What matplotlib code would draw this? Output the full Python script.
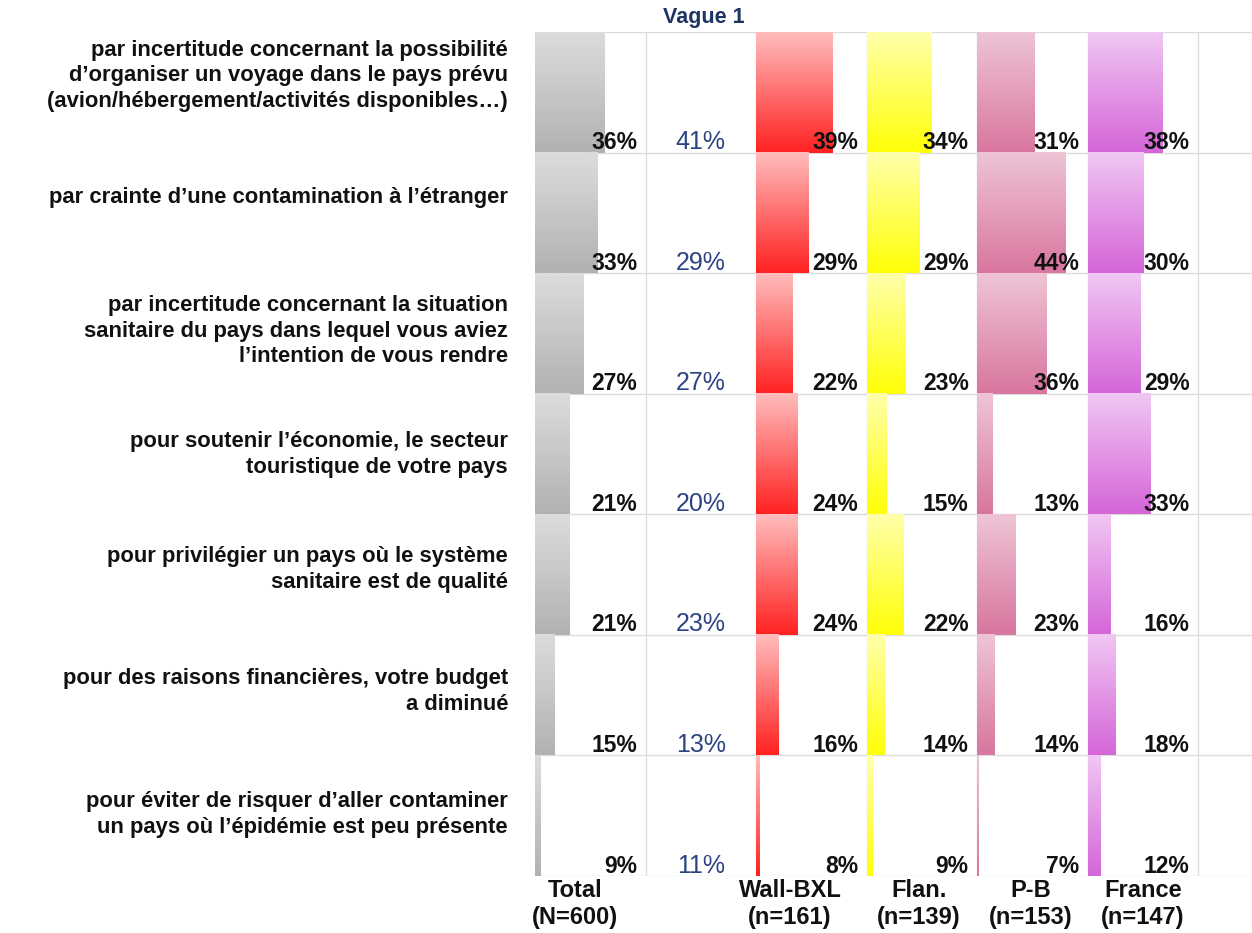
import numpy as np
import matplotlib
matplotlib.use('Agg')
import matplotlib.pyplot as plt
from matplotlib.colors import LinearSegmentedColormap

plt.rcParams['font.family'] = ['Liberation Sans', 'DejaVu Sans']

# Data
reasons = [
    "par incertitude concernant la possibilité\nd\u2019organiser un voyage dans le pays prévu\n(avion/hébergement/activités disponibles\u2026)",
    "par crainte d\u2019une contamination à l\u2019étranger",
    "par incertitude concernant la situation\nsanitaire du pays dans lequel vous aviez\nl\u2019intention de vous rendre",
    "pour soutenir l\u2019économie, le secteur\ntouristique de votre pays",
    "pour privilégier un pays où le système\nsanitaire est de qualité",
    "pour des raisons financières, votre budget\na diminué",
    "pour éviter de risquer d\u2019aller contaminer\nun pays où l\u2019épidémie est peu présente",
]
total = [36, 33, 27, 21, 21, 15, 9]
vague1 = [41, 29, 27, 20, 23, 13, 11]
wall_bxl = [39, 29, 22, 24, 24, 16, 8]
flandre = [34, 29, 23, 15, 22, 14, 9]
pays_bas = [31, 44, 36, 13, 23, 14, 7]
france = [38, 30, 29, 33, 16, 18, 12]
group_labels = ["Total\n(N=600)", "Wall-BXL\n(n=161)", "Flan.\n(n=139)", "P-B\n(n=153)", "France\n(n=147)"]

W, H = 1252, 933
fig = plt.figure(figsize=(W / 100, H / 100), dpi=100)

def fx(px):
    return px / W

def fy(py):
    return 1 - py / H

grid_left, grid_right = 535, 1252
grid_top, grid_bottom = 32, 876
n_rows = len(reasons)
row_h = (grid_bottom - grid_top) / n_rows
col_w = 110.5

# grid background
bg = fig.add_axes([fx(grid_left), fy(grid_bottom), fx(grid_right - grid_left), (grid_bottom - grid_top) / H])
bg.set_xlim(grid_left, grid_right)
bg.set_ylim(grid_bottom, grid_top)
bg.axis('off')
for k in range(n_rows + 1):
    bg.axhline(grid_top + k * row_h, color='#dcdcdc', lw=1)
for k in range(7):
    bg.axvline(grid_left + k * col_w, color='#dcdcdc', lw=1)

columns = [
    (total, ('#dcdcdc', '#b2b2b2')),
    (vague1, None),
    (wall_bxl, ('#ffbcbc', '#ff2222')),
    (flandre, ('#ffffaa', '#ffff08')),
    (pays_bas, ('#eec4d5', '#d9769f')),
    (france, ('#f0c6f3', '#d566d8')),
]

xmin, xmax = 6.5, 53.5
grad = np.linspace(0, 1, 64).reshape(-1, 1)

for i, (vals, colors) in enumerate(columns):
    left = grid_left + i * col_w
    ax = fig.add_axes([fx(left), fy(grid_bottom), fx(col_w), (grid_bottom - grid_top) / H], zorder=2)
    ax.patch.set_alpha(0)
    for r, v in enumerate(vals):
        y0 = n_rows - 1 - r
        if colors is None:
            ax.annotate(f"{v}%", xy=((xmin + xmax) / 2, y0), xytext=(0, 2.5),
                        textcoords='offset points', ha='center', va='baseline',
                        fontsize=18, color='#2b4382')
            continue
        cmap = LinearSegmentedColormap.from_list(f'c{i}', colors)
        ax.imshow(grad, extent=(xmin, v, y0, y0 + 1), origin='upper', cmap=cmap,
                  aspect='auto', interpolation='bilinear', zorder=1)
        ax.annotate(f"{v}%", xy=(xmax, y0), xytext=(-6, 2.5),
                    textcoords='offset points', ha='right', va='baseline',
                    fontsize=16.5, fontweight='bold', color='#111111', zorder=3)
    ax.set_xlim(xmin, xmax)
    ax.set_ylim(0, n_rows)
    ax.axis('off')

# row labels
label_dy = [44, 45, 58, 61, 55, 57, 59]
for r, txt in enumerate(reasons):
    yc = grid_top + r * row_h + label_dy[r]
    fig.text(fx(508), fy(yc), txt, ha='right', va='center', multialignment='right',
             fontsize=15.8, fontweight='bold', color='#111111', linespacing=1.3)

fig.text(fx(704), fy(18), "Vague 1", ha='center', va='center', fontsize=15.5,
         fontweight='bold', color='#1f3464')

group_x = [575, 790, 919, 1031, 1143]
for gx, lab in zip(group_x, group_labels):
    fig.text(fx(gx), fy(904), lab, ha='center', va='center', fontsize=17,
             fontweight='bold', color='#111111', linespacing=1.25)

fig.savefig('out.png', dpi=100)
plt.close(fig)
